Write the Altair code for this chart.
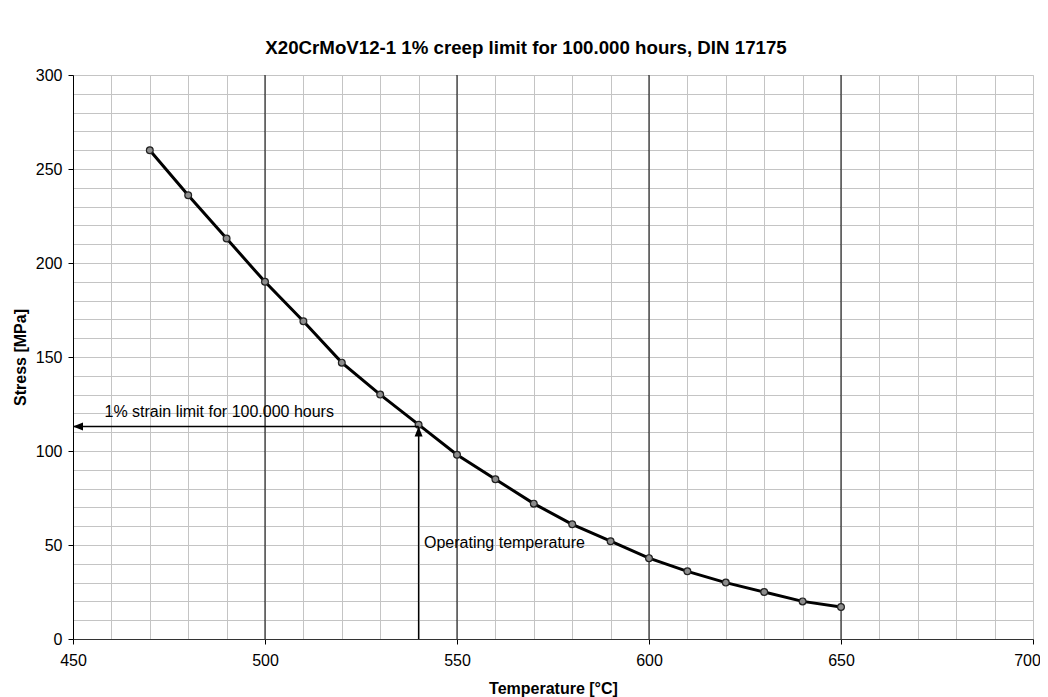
import altair as alt
import pandas as pd

temps = [470, 480, 490, 500, 510, 520, 530, 540, 550, 560, 570, 580, 590, 600, 610, 620, 630, 640, 650]
stress = [260, 236, 213, 190, 169, 147, 130, 114, 98, 85, 72, 61, 52, 43, 36, 30, 25, 20, 17]

major_x = [500, 550, 600, 650]
x_ticks = list(range(450, 701, 10))
y_ticks = list(range(0, 301, 10))

op_temp = 540
limit_stress = 113
x_min = 450
texts = ["1% strain limit for 100.000 hours", "Operating temperature"]
text_x = [458.2, 541.4]
text_y = [121, 51]

FONT = "Liberation Sans"

df = pd.DataFrame({"t": temps, "s": stress})
xs = alt.Scale(domain=[450, 700], nice=False, zero=False)
ys = alt.Scale(domain=[0, 300], nice=False)

common = dict(
    grid=True, gridColor="#c4c4c4", gridWidth=1, tickCount=100,
    labelExpr="datum.value % 50 === 0 ? datum.label : ''",
    tickOpacity={"condition": {"test": "datum.value % 50 === 0", "value": 1}, "value": 0},
    tickSize=5, tickColor="#000000", labelOverlap=False, labelFlush=False,
    labelFontSize=16, labelFont=FONT, labelColor="#000000",
    titleFont=FONT, titleFontSize=16, titleFontWeight="bold", titleColor="#000000",
)
xaxis = alt.Axis(values=x_ticks, domainColor="#333333", title="Temperature [°C]",
                 labelPadding=8, titleY=49, titleBaseline="middle",
                 labelOffset={"condition": {"test": "datum.value === 700", "value": -6}, "value": 0},
                 **common)
yaxis = alt.Axis(values=y_ticks, domainColor="#000000", title="Stress [MPa]",
                 labelPadding=6, titleX=-53, titleBaseline="middle", **common)

base = alt.Chart(df)

majors = alt.Chart(pd.DataFrame({"x": major_x})).mark_rule(color="#000000", strokeWidth=1).encode(
    x=alt.X("x:Q", scale=xs, axis=xaxis),
    y=alt.value(0), y2=alt.value(564),
)

line = base.mark_line(color="#000000", strokeWidth=3).encode(
    x=alt.X("t:Q", scale=xs, axis=xaxis),
    y=alt.Y("s:Q", scale=ys, axis=yaxis),
)
pts = base.mark_point(filled=True, fill="#8c8c8c", stroke="#222222", strokeWidth=1.2, size=46, opacity=1).encode(
    x=alt.X("t:Q", scale=xs), y=alt.Y("s:Q", scale=ys),
)

ann = pd.DataFrame({"x1": [op_temp, op_temp], "x2": [x_min, op_temp], "y1": [limit_stress, 0], "y2": [limit_stress, limit_stress]})
arrows = alt.Chart(ann).mark_rule(color="#000000", strokeWidth=1.4).encode(
    x=alt.X("x1:Q", scale=xs), x2="x2:Q",
    y=alt.Y("y1:Q", scale=ys), y2="y2:Q",
)
head_left = alt.Chart(pd.DataFrame({"x": [x_min], "y": [limit_stress]})).mark_point(
    shape="M0,0L1,-0.4L1,0.4Z", filled=True, color="#000000", size=400, opacity=1
).encode(x=alt.X("x:Q", scale=xs), y=alt.Y("y:Q", scale=ys))
head_up = alt.Chart(pd.DataFrame({"x": [op_temp], "y": [limit_stress]})).mark_point(
    shape="M0,0L-0.4,1L0.4,1Z", filled=True, color="#000000", size=400, opacity=1
).encode(x=alt.X("x:Q", scale=xs), y=alt.Y("y:Q", scale=ys))

labels = alt.Chart(pd.DataFrame({"x": text_x, "y": text_y, "t": texts})).mark_text(
    align="left", baseline="middle", font=FONT, fontSize=16, color="#000000"
).encode(x=alt.X("x:Q", scale=xs), y=alt.Y("y:Q", scale=ys), text="t:N")

chart = alt.layer(majors, line, pts, arrows, head_left, head_up, labels).properties(
    width=960, height=564,
    autosize=alt.AutoSizeParams(type="none"),
    padding={"left": 65, "top": 67, "right": 7, "bottom": 58},
    title=alt.TitleParams(
        "X20CrMoV12-1 1% creep limit for 100.000 hours, DIN 17175",
        font=FONT, fontSize=18.7, fontWeight="bold", color="#000000",
        anchor="middle", dx=-27, offset=9,
    ),
).configure_view(stroke=None).configure(background="white")

chart.save("out.html", embed_options={"renderer": "svg", "actions": False})
